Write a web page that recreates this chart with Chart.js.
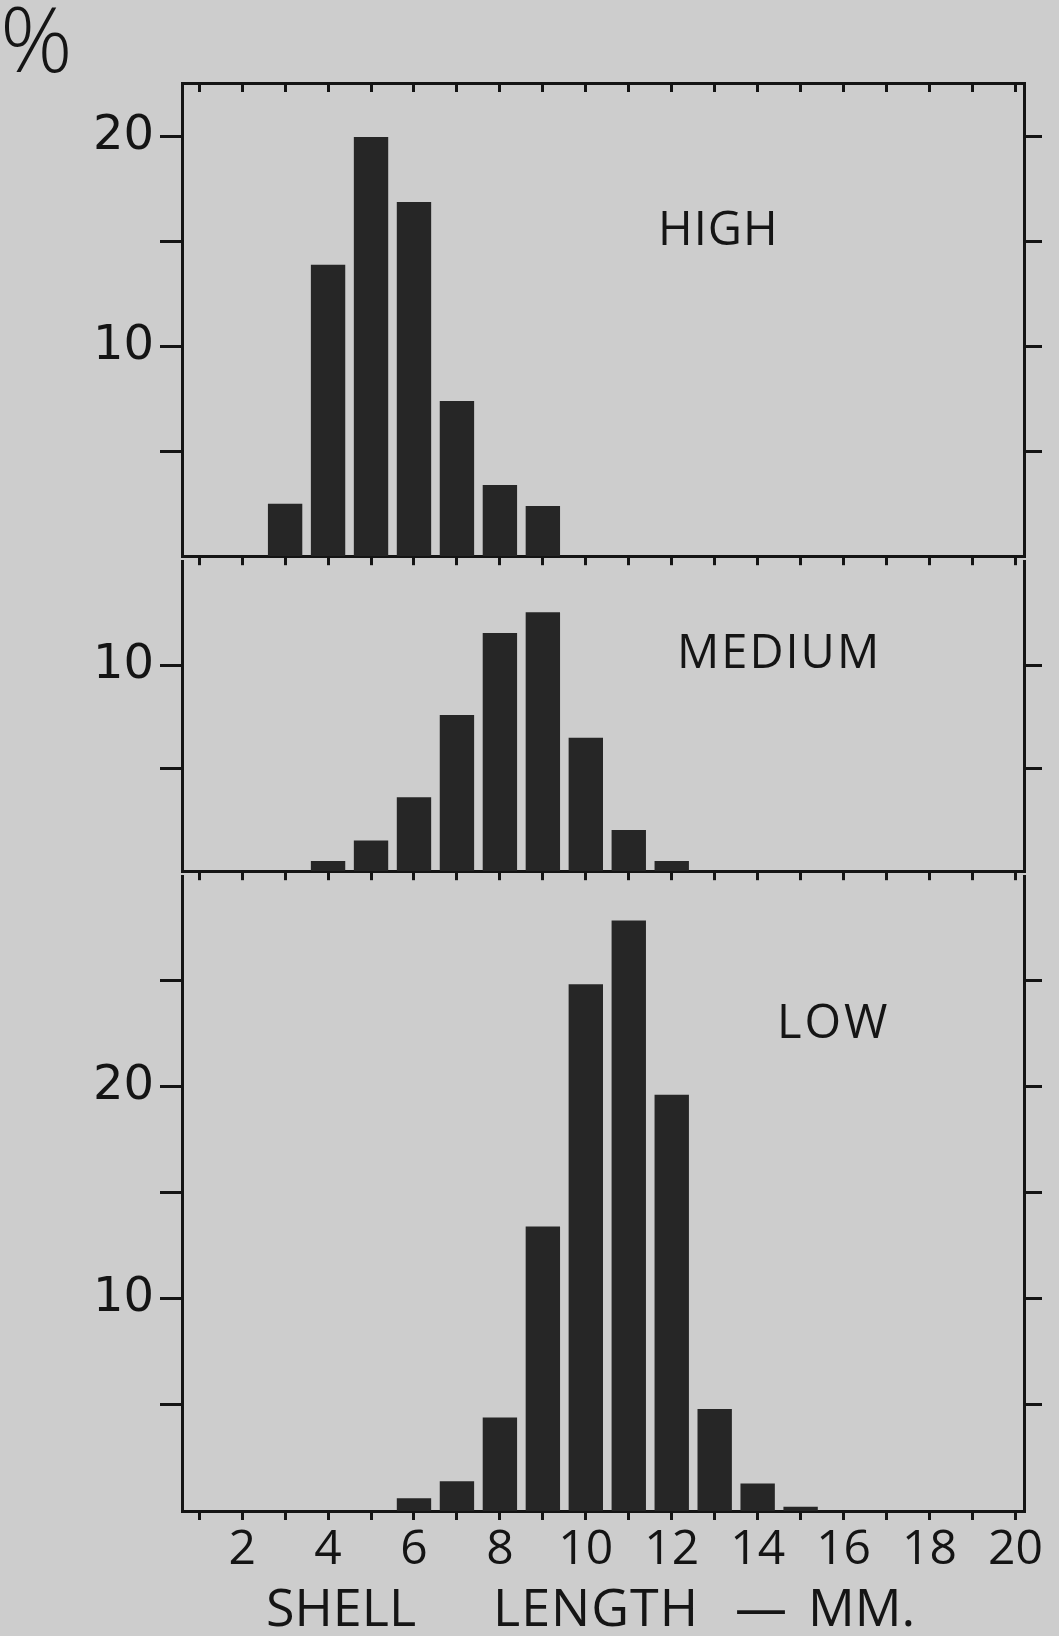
<!DOCTYPE html>
<html><head><meta charset="utf-8">
<script src="https://cdn.jsdelivr.net/npm/chart.js@4/dist/chart.umd.min.js"></script>
<style>
html,body{margin:0;padding:0;}
body{width:1059px;height:1636px;background:#cdcdcd;position:relative;overflow:hidden;font-family:"Open Sans",sans-serif;color:#151515;}
canvas{position:absolute;left:0;}
.lbl{position:absolute;font-size:47px;line-height:1;white-space:nowrap;}
.ttl{position:absolute;font-size:52px;line-height:1;white-space:nowrap;top:1580px;}
</style></head><body>
<canvas id="cHigh" width="1059" height="591" style="top:0px"></canvas>
<canvas id="cMedium" width="1059" height="385" style="top:521px"></canvas>
<canvas id="cLow" width="1059" height="800" style="top:836px"></canvas>
<div class="lbl" style="left:0px;top:-8px;font-size:90px;font-weight:300;">%</div>
<div class="lbl" style="left:658px;top:204px;letter-spacing:1px;">HIGH</div>
<div class="lbl" style="left:677px;top:627px;letter-spacing:2px;">MEDIUM</div>
<div class="lbl" style="left:777px;top:997px;letter-spacing:3px;">LOW</div>
<div class="ttl" style="left:266px">SHELL</div>
<div class="ttl" style="left:493px;letter-spacing:1px;">LENGTH</div>
<div class="ttl" style="left:735px">—</div>
<div class="ttl" style="left:808px">MM.</div>
<script>
// ---- data ----
const highLengths   = [3, 4, 5, 6, 7, 8, 9];
const highPercent   = [2.5, 13.9, 20.0, 16.9, 7.4, 3.4, 2.4];
const mediumLengths = [4, 5, 6, 7, 8, 9, 10, 11, 12];
const mediumPercent = [0.5, 1.5, 3.6, 7.6, 11.6, 12.6, 6.5, 2.0, 0.5];
const lowLengths    = [6, 7, 8, 9, 10, 11, 12, 13, 14, 15];
const lowPercent    = [0.6, 1.4, 4.4, 13.4, 24.8, 27.8, 19.6, 4.8, 1.3, 0.2];
const xTicks        = [1, 2, 3, 4, 5, 6, 7, 8, 9, 10, 11, 12, 13, 14, 15, 16, 17, 18, 19, 20];
const xTickLabels   = [2, 4, 6, 8, 10, 12, 14, 16, 18, 20];
const highYTicks    = [5, 10, 15, 20];
const highYLabels   = [10, 20];
const mediumYTicks  = [5, 10];
const mediumYLabels = [10];
const lowYTicks     = [5, 10, 15, 20, 25];
const lowYLabels    = [10, 20];

const X_MIN = 0.6, X_MAX = 20.2;
const INK = '#141414';
const BAR = '#262626';

function panel(id, xs, ys, yMax, yTicks, yLabels, padTop, xAxisH, showX, topBorder) {
  const border = {display: true, color: INK, width: 3};
  const scales = {
    x: {
      type: 'linear', position: 'bottom', min: X_MIN, max: X_MAX, offset: false, z: 1,
      afterBuildTicks: s => { s.ticks = xTicks.map(v => ({value: v})); },
      afterFit: s => { s.height = xAxisH; },
      grid: {drawOnChartArea: false, drawTicks: true, tickLength: 9, lineWidth: 3, color: INK, offset: false},
      border: border,
      ticks: {display: showX, autoSkip: false, maxRotation: 0, minRotation: 0, padding: 2, color: INK,
        font: {family: 'Open Sans', size: 48},
        callback: v => xTickLabels.includes(v) ? String(v) : ''}
    },
    y: {
      type: 'linear', position: 'left', min: 0, max: yMax, z: 1,
      afterBuildTicks: s => { s.ticks = yTicks.map(v => ({value: v})); },
      afterFit: s => { s.width = 182; },
      grid: {drawOnChartArea: false, drawTicks: true, tickLength: 22, lineWidth: 3, color: INK},
      border: border,
      ticks: {display: true, padding: 6, color: INK, font: {family: 'DejaVu Sans', size: 48},
        callback: v => yLabels.includes(v) ? String(v) : ''}
    },
    yR: {
      type: 'linear', position: 'right', min: 0, max: yMax, z: 1,
      afterBuildTicks: s => { s.ticks = yTicks.map(v => ({value: v})); },
      afterFit: s => { s.width = 35; },
      grid: {drawOnChartArea: false, drawTicks: true, tickLength: 18, lineWidth: 3, color: INK},
      border: border,
      ticks: {display: false}
    }
  };
  if (topBorder) {
    scales.xTop = {
      type: 'linear', position: 'top', min: X_MIN, max: X_MAX, offset: false, z: 1,
      afterBuildTicks: s => { s.ticks = xTicks.map(v => ({value: v})); },
      afterFit: s => { s.height = 0; },
      grid: {drawOnChartArea: false, drawTicks: true, tickLength: -9, lineWidth: 3, color: INK, offset: false},
      border: border,
      ticks: {display: false}
    };
  }
  new Chart(document.getElementById(id), {
    type: 'bar',
    data: {datasets: [{
      data: xs.map((x, i) => ({x: x, y: ys[i]})),
      backgroundColor: BAR, borderWidth: 0,
      barPercentage: 0.8, categoryPercentage: 1.0
    }]},
    options: {
      responsive: false, animation: false, events: [],
      layout: {padding: {top: padTop, left: 0, right: 0, bottom: 0}},
      plugins: {legend: {display: false}, tooltip: {enabled: false}, title: {display: false}},
      scales: scales
    }
  });
}

panel('cHigh', highLengths, highPercent, 22.57, highYTicks, highYLabels, 83, 30, false, true);
panel('cMedium', mediumLengths, mediumPercent, 15.1, mediumYTicks, mediumYLabels, 40, 30, false, false);
panel('cLow', lowLengths, lowPercent, 29.9, lowYTicks, lowYLabels, 40, 125, true, false);
</script>
</body></html>
